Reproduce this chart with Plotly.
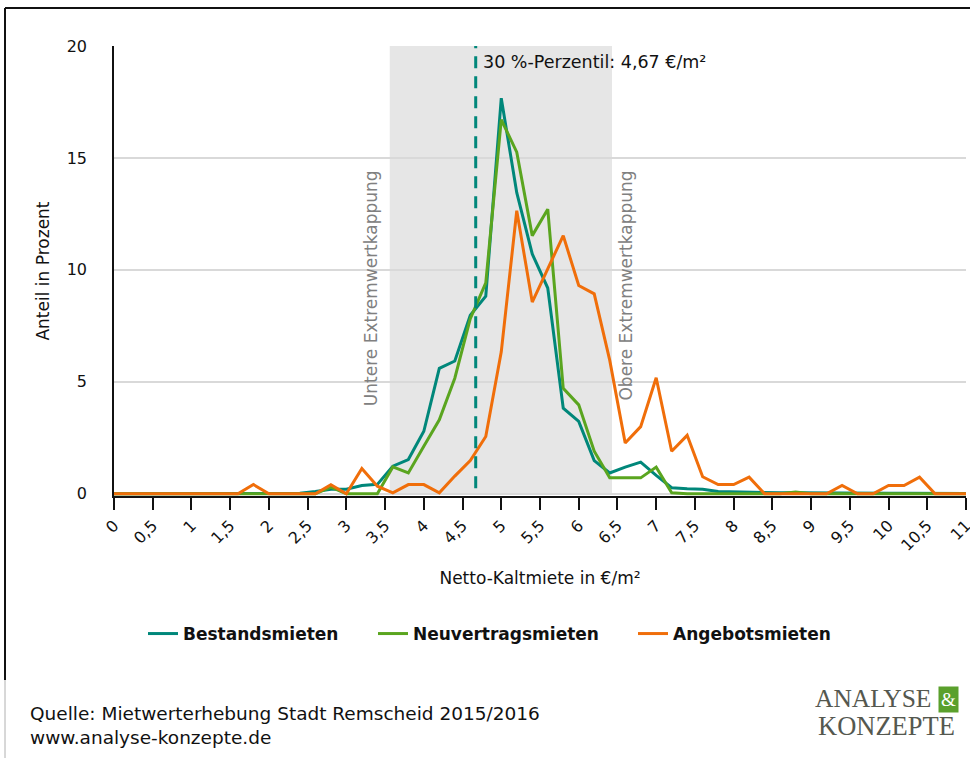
import plotly.graph_objects as go

# ---- data ----
miete = [0.0, 0.2, 0.4, 0.6, 0.8, 1.0, 1.2, 1.4, 1.6, 1.8, 2.0, 2.2, 2.4, 2.6, 2.8, 3.0,
         3.2, 3.4, 3.6, 3.8, 4.0, 4.2, 4.4, 4.6, 4.8, 5.0, 5.2, 5.4, 5.6, 5.8, 6.0, 6.2,
         6.4, 6.6, 6.8, 7.0, 7.2, 7.4, 7.6, 7.8, 8.0, 8.2, 8.4, 8.6, 8.8, 9.0, 9.2, 9.4,
         9.6, 9.8, 10.0, 10.2, 10.4, 10.6, 10.8, 11.0]

bestandsmieten = [0, 0, 0, 0, 0, 0, 0, 0, 0, 0, 0, 0, 0.02, 0.1, 0.2, 0.2,
                  0.37, 0.42, 1.23, 1.53, 2.79, 5.6, 5.93, 7.97, 8.83, 17.67, 13.45, 10.71, 9.19, 3.82, 3.23, 1.48,
                  0.93, 1.19, 1.41, 0.82, 0.27, 0.22, 0.2, 0.1, 0.08, 0.06, 0.05, 0.04, 0.05, 0.04, 0.03, 0.03,
                  0.02, 0.02, 0.02, 0.02, 0.02, 0.01, 0.01, 0.01]

neuvertragsmieten = [0, 0, 0, 0, 0, 0, 0, 0, 0, 0, 0, 0, 0, 0, 0.3, 0,
                     0, 0, 1.2, 0.93, 2.12, 3.3, 5.16, 7.82, 9.42, 16.71, 15.26, 11.53, 12.71, 4.71, 3.97, 1.9,
                     0.71, 0.71, 0.71, 1.19, 0.04, 0, 0, 0, 0, 0, 0, 0, 0.08, 0, 0, 0,
                     0, 0, 0, 0, 0, 0, 0, 0]

angebotsmieten = [0, 0, 0, 0, 0, 0, 0, 0, 0, 0.41, 0, 0, 0, 0, 0.4, 0,
                  1.13, 0.34, 0.04, 0.41, 0.41, 0.04, 0.79, 1.48, 2.56, 6.34, 12.64, 8.56, 10.05, 11.53, 9.3, 8.93,
                  5.97, 2.27, 3.0, 5.18, 1.9, 2.61, 0.76, 0.41, 0.41, 0.74, 0, 0, 0, 0, 0, 0.37,
                  0, 0, 0.37, 0.37, 0.74, 0, 0, 0]

tick_vals = [0, 0.5, 1, 1.5, 2, 2.5, 3, 3.5, 4, 4.5, 5, 5.5, 6, 6.5, 7, 7.5, 8, 8.5, 9, 9.5, 10, 10.5, 11]
tick_text = ["0", "0,5", "1", "1,5", "2", "2,5", "3", "3,5", "4", "4,5", "5", "5,5", "6", "6,5",
             "7", "7,5", "8", "8,5", "9", "9,5", "10", "10,5", "11"]

perzentil_30 = 4.67
kappung_unten = 3.56
kappung_oben = 6.43

TEAL = "#00877a"
GREEN = "#5aa51f"
ORANGE = "#f06e0a"
FONT = "DejaVu Sans"

fig = go.Figure()
fig.add_trace(go.Scatter(x=miete, y=bestandsmieten, mode="lines", name="Bestandsmieten",
                         line=dict(color=TEAL, width=3), legend="legend"))
fig.add_trace(go.Scatter(x=miete, y=neuvertragsmieten, mode="lines", name="Neuvertragsmieten",
                         line=dict(color=GREEN, width=3), legend="legend2"))
fig.add_trace(go.Scatter(x=miete, y=angebotsmieten, mode="lines", name="Angebotsmieten",
                         line=dict(color=ORANGE, width=3), legend="legend3"))

# shaded band between the two cut-offs
fig.add_shape(type="rect", xref="x", yref="y", x0=kappung_unten, x1=kappung_oben, y0=0, y1=20,
              fillcolor="#e6e6e6", line=dict(width=0), layer="below")
# percentile line
fig.add_shape(type="line", xref="x", yref="y", x0=perzentil_30, x1=perzentil_30, y0=0.25, y1=20,
              line=dict(color=TEAL, width=3, dash="12px,8px"))

# frame
fx = -109 / 852
fy_top = 488 / 450
fig.add_shape(type="line", xref="paper", yref="paper", x0=fx, x1=1.01, y0=fy_top, y1=fy_top,
              line=dict(color="#111111", width=2))
fig.add_shape(type="line", xref="paper", yref="paper", x0=fx, x1=fx, y0=fy_top, y1=(496 - 680) / 450,
              line=dict(color="#111111", width=2))
fig.add_shape(type="line", xref="paper", yref="paper", x0=fx, x1=fx, y0=(496 - 680) / 450, y1=(496 - 760) / 450,
              line=dict(color="#b0b0b0", width=1))

annots = [
    dict(x=perzentil_30, y=19.3, xref="x", yref="y", text="30 %-Perzentil: 4,67 €/m²",
         xanchor="left", yanchor="middle", xshift=5, showarrow=False,
         font=dict(family=FONT, size=17.5, color="#111111")),
    dict(x=3.31, y=9.2, xref="x", yref="y", text="Untere Extremwertkappung", textangle=-90,
         xanchor="center", yanchor="middle", showarrow=False,
         font=dict(family=FONT, size=17, color="#808080")),
    dict(x=6.61, y=9.3, xref="x", yref="y", text="Obere Extremwertkappung", textangle=-90,
         xanchor="center", yanchor="middle", showarrow=False,
         font=dict(family=FONT, size=17, color="#808080")),
    dict(x=(28 - 114) / 852, y=(496 - 713) / 450, xref="paper", yref="paper",
         text="Quelle: Mietwerterhebung Stadt Remscheid 2015/2016", xanchor="left", yanchor="middle",
         showarrow=False, font=dict(family=FONT, size=18.5, color="#111111")),
    dict(x=(28 - 114) / 852, y=(496 - 737) / 450, xref="paper", yref="paper",
         text="www.analyse-konzepte.de", xanchor="left", yanchor="middle",
         showarrow=False, font=dict(family=FONT, size=18.5, color="#111111")),
    dict(x=(933 - 114) / 852, y=(496 - 698) / 450, xref="paper", yref="paper",
         text="ANALYSE", xanchor="right", yanchor="middle", showarrow=False,
         font=dict(family="Liberation Serif", size=25.5, color="#55584f")),
    dict(x=(957 - 114) / 852, y=(496 - 726) / 450, xref="paper", yref="paper",
         text="KONZEPTE", xanchor="right", yanchor="middle", showarrow=False,
         font=dict(family="Liberation Serif", size=26.5, color="#55584f")),
    dict(x=(948 - 114) / 852, y=(496 - 699) / 450, xref="paper", yref="paper",
         text="&", xanchor="center", yanchor="middle", showarrow=False, bgcolor="#5aa02c",
         borderpad=2, font=dict(family="Liberation Serif", size=19, color="white")),
]

legend_common = dict(orientation="h", yanchor="middle", xanchor="left", bgcolor="rgba(0,0,0,0)",
                     font=dict(family=FONT, size=17, color="#111111", weight="bold"))
ly = (496 - 634) / 450

fig.update_layout(
    width=970, height=758,
    margin=dict(l=114, r=4, t=46, b=262),
    paper_bgcolor="white", plot_bgcolor="white",
    font=dict(family=FONT, size=16, color="#111111"),
    annotations=annots,
    showlegend=True,
    legend=dict(x=(143 - 114) / 852, y=ly, **legend_common),
    legend2=dict(x=(373 - 114) / 852, y=ly, **legend_common),
    legend3=dict(x=(633 - 114) / 852, y=ly, **legend_common),
    xaxis=dict(range=[0, 11], tickmode="array", tickvals=tick_vals, ticktext=tick_text,
               tickangle=-45, ticks="outside", ticklen=12, tickwidth=1.5, tickcolor="#111111",
               ticklabeloverflow="allow", automargin=False,
               showline=True, linecolor="#111111", linewidth=2, showgrid=False, zeroline=False,
               layer="below traces",
               title=dict(text="Netto-Kaltmiete in €/m²", standoff=18, font=dict(size=17)),
               tickfont=dict(size=16)),
    yaxis=dict(range=[-0.1, 20], tickmode="array", tickvals=[0, 5, 10, 15, 20],
               showline=True, linecolor="#111111", linewidth=1.5, showgrid=True,
               gridcolor="#d9d9d9", gridwidth=1.5, zeroline=False, layer="below traces",
               ticklabelstandoff=22, automargin=False,
               title=dict(text="Anteil in Prozent", standoff=13, font=dict(size=17)),
               tickfont=dict(size=16)),
)

fig.write_html("out.html", config={"displayModeBar": False},
               post_script="document.body.style.margin='0';")
